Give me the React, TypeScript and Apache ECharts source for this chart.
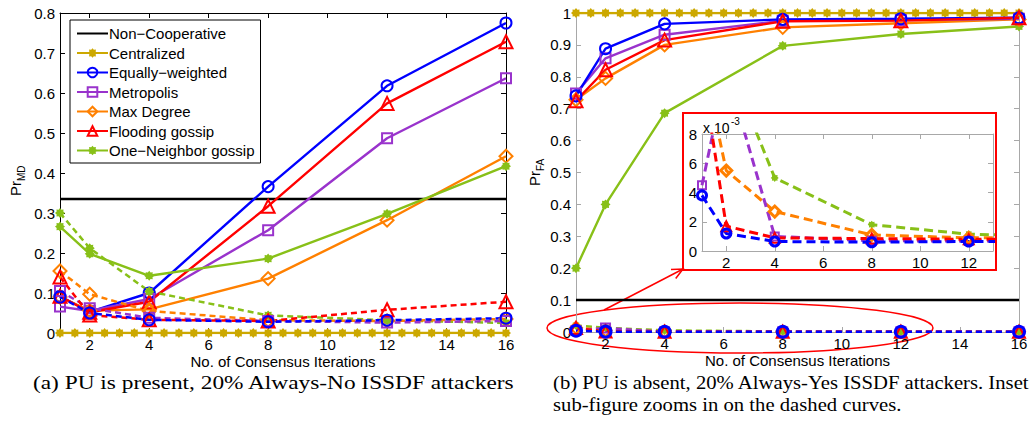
import React, { useEffect, useRef } from "react";
import * as echarts from "echarts";

// ---------- data ----------
const iterations = [1, 2, 4, 8, 12, 16];
const centralX = [1, 1.5, 2, 2.5, 3, 3.5, 4, 4.5, 5, 5.5, 6, 6.5, 7, 7.5, 8, 8.5, 9, 9.5, 10, 10.5, 11, 11.5, 12, 12.5, 13, 13.5, 14, 14.5, 15, 15.5, 16];
const centralizedA = [0, 0, 0, 0, 0, 0, 0, 0, 0, 0, 0, 0, 0, 0, 0, 0, 0, 0, 0, 0, 0, 0, 0, 0, 0, 0, 0, 0, 0, 0, 0];
const centralizedB = [1, 1, 1, 1, 1, 1, 1, 1, 1, 1, 1, 1, 1, 1, 1, 1, 1, 1, 1, 1, 1, 1, 1, 1, 1, 1, 1, 1, 1, 1, 1];
const nonCoopX = [1, 16];
const nonCoopA = [0.335, 0.335];
const nonCoopB = [0.1, 0.1];

// (a) Pr_MD, solid curves
const equalA = [0.092, 0.053, 0.1, 0.366, 0.618, 0.775];
const metroA = [0.066, 0.055, 0.085, 0.257, 0.487, 0.637];
const maxDegA = [0.09, 0.056, 0.059, 0.136, 0.282, 0.442];
const floodA = [0.092, 0.052, 0.078, 0.317, 0.574, 0.728];
const oneNbA = [0.266, 0.198, 0.143, 0.186, 0.298, 0.417];
// (a) dashed curves
const equalAd = [0.09, 0.05, 0.033, 0.028, 0.032, 0.037];
const metroAd = [0.105, 0.062, 0.038, 0.03, 0.026, 0.03];
const maxDegAd = [0.155, 0.097, 0.055, 0.032, 0.03, 0.035];
const floodAd = [0.14, 0.045, 0.033, 0.03, 0.058, 0.078];
const oneNbAd = [0.3, 0.212, 0.104, 0.044, 0.032, 0.025];

// (b) Pr_FA, solid curves
const equalB = [0.74, 0.888, 0.966, 0.98, 0.982, 0.985];
const metroB = [0.748, 0.858, 0.932, 0.976, 0.978, 0.982];
const maxDegB = [0.728, 0.795, 0.9, 0.955, 0.968, 0.98];
const floodB = [0.725, 0.822, 0.915, 0.974, 0.976, 0.985];
const oneNbB = [0.2, 0.4, 0.686, 0.897, 0.934, 0.958];
// (b) dashed curves
const equalBd = [0.0038, 0.0012, 0.00065, 0.0006, 0.00065, 0.00065];
const metroBd = [0.0045, 0.0124, 0.001, 0.0007, 0.00068, 0.0007];
const maxDegBd = [0.0133, 0.0055, 0.0027, 0.0011, 0.0009, 0.0009];
const floodBd = [0.0124, 0.0017, 0.0009, 0.00085, 0.0008, 0.0008];
const oneNbBd = [0.02, 0.0132, 0.005, 0.0018, 0.00115, 0.001];

const legendNames = [
  "Non\u2212Cooperative",
  "Centralized",
  "Equally\u2212weighted",
  "Metropolis",
  "Max Degree",
  "Flooding gossip",
  "One\u2212Neighbor gossip",
];

const captionA = "(a) PU is present, 20% Always-No ISSDF attackers";
const captionB1 = "(b) PU is absent, 20% Always-Yes ISSDF attackers. Inset";
const captionB2 = "sub-figure zooms in on the dashed curves.";

// ---------- styles ----------
const FONT = '"Liberation Sans", Arial, Helvetica, sans-serif';
const SERIF = '"Liberation Serif", "Times New Roman", Times, serif';
const C = {
  black: "#000000",
  gold: "#CCA800",
  blue: "#0000FF",
  purple: "#9933CC",
  orange: "#FF8000",
  red: "#FF0000",
  green: "#88C018",
};

const starPath = (() => {
  const pts: string[] = [];
  for (let k = 0; k < 16; k++) {
    const r = k % 2 ? 0.72 : 1;
    const a = (k * Math.PI) / 8 - Math.PI / 2;
    pts.push(`${(r * Math.cos(a)).toFixed(3)} ${(r * Math.sin(a)).toFixed(3)}`);
  }
  return "path://M" + pts.join(" L") + " Z";
})();

type LOpt = {
  grid: number;
  dash?: number[];
  width?: number;
  filled?: boolean;
  border?: number;
  z?: number;
};

function mkLine(name: string, xs: number[], ys: number[], color: string, symbol: string, size: number, o: LOpt) {
  return {
    type: "line",
    name,
    xAxisIndex: o.grid * 2,
    yAxisIndex: o.grid * 2,
    data: xs.map((x, i) => [x, ys[i]]),
    symbol,
    symbolSize: size,
    clip: true,
    silent: true,
    z: o.z ?? 3,
    lineStyle: { color, width: o.width ?? 2.4, type: o.dash ? o.dash : "solid" },
    itemStyle: {
      color: o.filled ? color : "rgba(255,255,255,0)",
      borderColor: color,
      borderWidth: o.filled ? 0 : o.border ?? 2,
    },
    emphasis: { disabled: true },
  };
}

function xAx(grid: number, pos: "bottom" | "top", max: number, color: string, withName: boolean) {
  return {
    type: "value",
    gridIndex: grid,
    position: pos,
    min: 1,
    max,
    minInterval: 2,
    maxInterval: 2,
    splitNumber: 8,
    axisLine: { show: true, onZero: false, lineStyle: { color, width: 1 } },
    axisTick: { show: true, inside: true, length: 5, lineStyle: { color } },
    axisLabel: {
      show: pos === "bottom",
      color: "#000",
      fontSize: 15,
      fontFamily: FONT,
      margin: 4,
      showMinLabel: false,
      showMaxLabel: max === 16,
    },
    splitLine: { show: false },
    name: withName ? "No. of Consensus Iterations" : "",
    nameLocation: "middle",
    nameGap: 21,
    nameMoveOverlap: false,
    nameTextStyle: { color: "#000", fontSize: 15, fontFamily: FONT },
  };
}

function yAx(grid: number, pos: "left" | "right", max: number, interval: number, color: string, fmt?: (v: number) => string) {
  return {
    type: "value",
    gridIndex: grid,
    position: pos,
    min: 0,
    max,
    interval,
    axisLine: { show: true, onZero: false, lineStyle: { color, width: 1 } },
    axisTick: { show: true, inside: true, length: 5, lineStyle: { color } },
    axisLabel: {
      show: pos === "left",
      color: "#000",
      fontSize: 15,
      fontFamily: FONT,
      margin: 5,
      formatter: fmt,
    },
    splitLine: { show: false },
  };
}

function measure(text: string, font: string) {
  const ctx = document.createElement("canvas").getContext("2d");
  if (!ctx) return 1;
  ctx.font = font;
  return ctx.measureText(text).width || 1;
}

export default function App() {
  const ref = useRef<HTMLDivElement>(null);

  useEffect(() => {
    if (!ref.current) return;
    const chart = echarts.init(ref.current, undefined, { renderer: "svg" });

    const capSize = 18;
    const capFont = `${capSize}px ${SERIF}`;
    const sA = 482 / measure(captionA, capFont);
    const sB = 477 / measure(captionB1, capFont);

    const dashA = [6, 4];
    const dashI = [9, 5];

    const series: any[] = [
      // ---- (a) ----
      mkLine(legendNames[0], nonCoopX, nonCoopA, C.black, "none", 0, { grid: 0, width: 2.5, z: 2 }),
      mkLine(legendNames[1], centralX, centralizedA, C.gold, starPath, 10, { grid: 0, width: 2.5, filled: true, z: 2 }),
      mkLine(legendNames[2], iterations, equalA, C.blue, "circle", 11, { grid: 0 }),
      mkLine(legendNames[3], iterations, metroA, C.purple, "rect", 10, { grid: 0 }),
      mkLine(legendNames[4], iterations, maxDegA, C.orange, "diamond", 13, { grid: 0 }),
      mkLine(legendNames[5], iterations, floodA, C.red, "triangle", 13, { grid: 0 }),
      mkLine(legendNames[6], iterations, oneNbA, C.green, starPath, 10, { grid: 0, filled: true }),
      mkLine("One\u2212Neighbor gossip (dashed)", iterations, oneNbAd, C.green, starPath, 10, { grid: 0, filled: true, dash: dashA, width: 2.5 }),
      mkLine("Max Degree (dashed)", iterations, maxDegAd, C.orange, "diamond", 13, { grid: 0, dash: dashA, width: 2.5 }),
      mkLine("Metropolis (dashed)", iterations, metroAd, C.purple, "rect", 10, { grid: 0, dash: dashA, width: 2.5 }),
      mkLine("Flooding gossip (dashed)", iterations, floodAd, C.red, "triangle", 13, { grid: 0, dash: dashA, width: 2.5 }),
      mkLine("Equally\u2212weighted (dashed)", iterations, equalAd, C.blue, "circle", 11, { grid: 0, dash: dashA, width: 2.5 }),
      // ---- (b) ----
      mkLine(legendNames[0], nonCoopX, nonCoopB, C.black, "none", 0, { grid: 1, width: 2.5, z: 2 }),
      mkLine(legendNames[1], centralX, centralizedB, C.gold, starPath, 10, { grid: 1, width: 2.5, filled: true, z: 2 }),
      mkLine(legendNames[6], iterations, oneNbB, C.green, starPath, 10, { grid: 1, filled: true }),
      mkLine(legendNames[4], iterations, maxDegB, C.orange, "diamond", 13, { grid: 1 }),
      mkLine(legendNames[3], iterations, metroB, C.purple, "rect", 10, { grid: 1 }),
      mkLine(legendNames[2], iterations, equalB, C.blue, "circle", 11, { grid: 1 }),
      mkLine(legendNames[5], iterations, floodB, C.red, "triangle", 13, { grid: 1 }),
      mkLine("One\u2212Neighbor gossip (b, dashed)", iterations, oneNbBd, C.green, starPath, 9, { grid: 1, filled: true, dash: dashA, width: 2.5 }),
      mkLine("Max Degree (b, dashed)", iterations, maxDegBd, C.orange, "diamond", 12, { grid: 1, dash: dashA, width: 2.5 }),
      mkLine("Metropolis (b, dashed)", iterations, metroBd, C.purple, "rect", 9, { grid: 1, dash: dashA, width: 2.5 }),
      mkLine("Flooding gossip (b, dashed)", iterations, floodBd, C.red, "triangle", 12, { grid: 1, dash: dashA, width: 2.5 }),
      mkLine("Equally\u2212weighted (b, dashed)", iterations, equalBd, C.blue, "circle", 11, { grid: 1, dash: dashA, width: 2.5, border: 3 }),
      // ---- inset ----
      mkLine("One\u2212Neighbor gossip (inset)", iterations, oneNbBd, C.green, starPath, 8, { grid: 2, filled: true, dash: dashI, width: 3 }),
      mkLine("Max Degree (inset)", iterations, maxDegBd, C.orange, "diamond", 11, { grid: 2, dash: dashI, width: 3, border: 3 }),
      mkLine("Metropolis (inset)", iterations, metroBd, C.purple, "rect", 8, { grid: 2, dash: dashI, width: 3 }),
      mkLine("Flooding gossip (inset)", iterations, floodBd, C.red, "triangle", 10, { grid: 2, dash: dashI, width: 3 }),
      mkLine("Equally\u2212weighted (inset)", iterations, equalBd, C.blue, "circle", 9, { grid: 2, dash: dashI, width: 3, border: 3 }),
    ];

    const grey = "#a8a8a8";
    const option: any = {
      animation: false,
      backgroundColor: "#ffffff",
      grid: [
        { left: 60, top: 13, width: 446, height: 320 },
        { left: 576, top: 13, width: 443, height: 319 },
        { left: 702, top: 134, width: 291, height: 117 },
      ],
      xAxis: [
        xAx(0, "bottom", 16, C.black, true),
        xAx(0, "top", 16, C.black, false),
        xAx(1, "bottom", 16, grey, true),
        xAx(1, "top", 16, grey, false),
        xAx(2, "bottom", 13, grey, false),
        xAx(2, "top", 13, grey, false),
      ],
      yAxis: [
        yAx(0, "left", 0.8, 0.1, C.black),
        yAx(0, "right", 0.8, 0.1, C.black),
        yAx(1, "left", 1, 0.1, grey),
        yAx(1, "right", 1, 0.1, grey),
        yAx(2, "left", 0.008, 0.002, grey, (v: number) => String(Math.round(v * 1000))),
        yAx(2, "right", 0.008, 0.002, grey),
      ],
      legend: {
        data: legendNames.map((n, i) => (i === 0 ? { name: n, itemStyle: { opacity: 0 } } : n)),
        orient: "vertical",
        left: 70,
        top: 20,
        padding: [6, 6, 5, 6],
        itemWidth: 31,
        itemHeight: 12,
        itemGap: 4.5,
        borderColor: "#000",
        borderWidth: 1,
        backgroundColor: "#fff",
        selectedMode: false,
        textStyle: { color: "#000", fontSize: 15, fontFamily: FONT, lineHeight: 15, padding: [0, 0, 0, -4] },
      },
      series,
      graphic: [
        // y-axis titles
        {
          type: "group",
          x: 15,
          y: 196,
          rotation: Math.PI / 2,
          children: [
            { type: "text", x: 0, y: 0, style: { text: "Pr", fontSize: 15, fontFamily: FONT, fill: "#000", align: "left", verticalAlign: "middle" } },
            { type: "text", x: 15, y: 6, style: { text: "MD", fontSize: 10, fontFamily: FONT, fill: "#000", align: "left", verticalAlign: "middle" } },
          ],
        },
        {
          type: "group",
          x: 534,
          y: 186,
          rotation: Math.PI / 2,
          children: [
            { type: "text", x: 0, y: 0, style: { text: "Pr", fontSize: 15, fontFamily: FONT, fill: "#000", align: "left", verticalAlign: "middle" } },
            { type: "text", x: 15, y: 6, style: { text: "FA", fontSize: 10, fontFamily: FONT, fill: "#000", align: "left", verticalAlign: "middle" } },
          ],
        },
        // inset frame
        { type: "rect", shape: { x: 683, y: 113, width: 313, height: 157 }, style: { fill: "none", stroke: C.red, lineWidth: 2 } },
        { type: "text", x: 703, y: 128, style: { text: "x 10", fontSize: 14, fontFamily: FONT, fill: "#000", align: "left", verticalAlign: "middle" } },
        { type: "text", x: 731, y: 121, style: { text: "-3", fontSize: 10, fontFamily: FONT, fill: "#000", align: "left", verticalAlign: "middle" } },
        // ellipse + arrow
        { type: "ellipse", shape: { cx: 740, cy: 328, rx: 193, ry: 25 }, style: { fill: "none", stroke: C.red, lineWidth: 1.5 } },
        { type: "line", shape: { x1: 604, y1: 310, x2: 683, y2: 269 }, style: { stroke: C.red, lineWidth: 1.5 } },
        { type: "polyline", shape: { points: [[671, 269.5], [683, 269], [675.7, 278.5]] }, style: { stroke: C.red, lineWidth: 1.5, fill: "none" } },
        // captions
        { type: "text", x: 33, y: 383, scaleX: sA, style: { text: captionA, fontSize: capSize, fontFamily: SERIF, fill: "#000", align: "left", verticalAlign: "middle" } },
        { type: "text", x: 553, y: 383, scaleX: sB, style: { text: captionB1, fontSize: capSize, fontFamily: SERIF, fill: "#000", align: "left", verticalAlign: "middle" } },
        { type: "text", x: 553, y: 405, scaleX: sB, style: { text: captionB2, fontSize: capSize, fontFamily: SERIF, fill: "#000", align: "left", verticalAlign: "middle" } },
      ],
    };

    chart.setOption(option);
    return () => chart.dispose();
  }, []);

  return (
    <div
      ref={ref}
      style={{ position: "absolute", left: 0, top: 0, width: 1034, height: 427, background: "#fff" }}
    />
  );
}
